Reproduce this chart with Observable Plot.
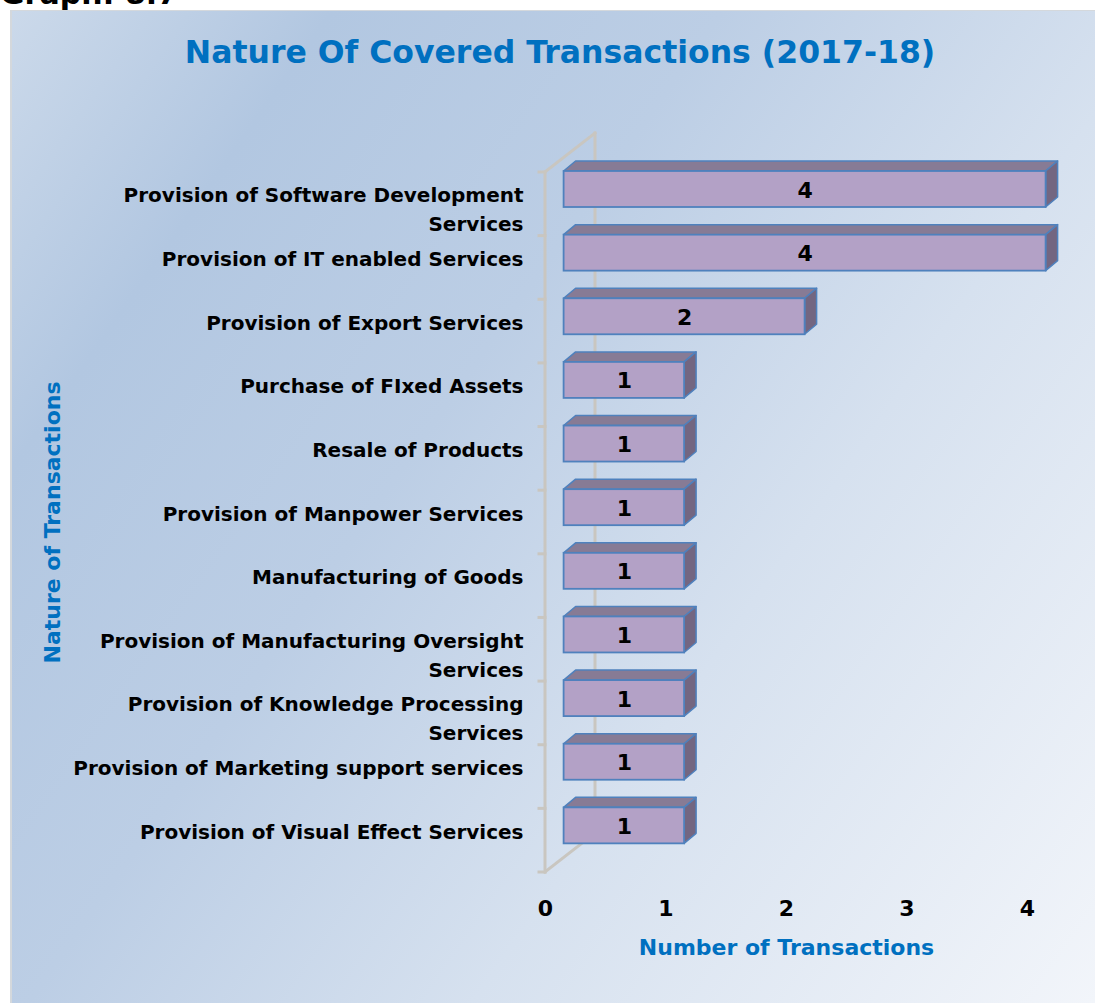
<!DOCTYPE html>
<html>
<head>
<meta charset="utf-8">
<script src="https://cdn.jsdelivr.net/npm/d3@7"></script>
<script src="https://cdn.jsdelivr.net/npm/@observablehq/plot@0.6"></script>
<style>
  html, body { margin: 0; padding: 0; background: #ffffff; width: 1095px; height: 1003px; overflow: hidden; }
  #graphno { position: absolute; left: 0; top: -24px; font: bold 30px "DejaVu Sans", sans-serif; color: #000; }
  #panel { position: absolute; left: 10px; top: 10px; width: 1085px; height: 993px;
    border-left: 2px solid #d4d8dc; border-top: 1px solid #d4d8dc; box-sizing: border-box;
    background: linear-gradient(125deg, #cbd9ea 0%, #b2c7e1 18%, #bccee5 40%, #d6e1ef 65%, #f2f5fa 100%); }
  #title { position: absolute; left: 0; width: 1120px; top: 34px; text-align: center;
    font: bold 31.5px "DejaVu Sans", sans-serif; color: #0070c0; }
  #chart { position: absolute; left: 0; top: 100px; }
</style>
</head>
<body>
<div id="graphno">Graph: 8.7</div>
<div id="panel"></div>
<div id="title">Nature Of Covered Transactions (2017-18)</div>
<div id="chart"></div>
<script>
// ---- data ----
const categories = [
  "Provision of Software Development\nServices",
  "Provision of IT enabled Services",
  "Provision of Export Services",
  "Purchase of FIxed Assets",
  "Resale of Products",
  "Provision of Manpower Services",
  "Manufacturing of Goods",
  "Provision of Manufacturing Oversight\nServices",
  "Provision of Knowledge Processing\nServices",
  "Provision of Marketing support services",
  "Provision of Visual Effect Services"
];
const counts = [4, 4, 2, 1, 1, 1, 1, 1, 1, 1, 1];
const xTicks = [0, 1, 2, 3, 4];
const xTitle = "Number of Transactions";
const yTitle = "Nature of Transactions";

const data = categories.map((c, i) => ({cat: c, value: counts[i]}));

// ---- styling ----
const FONT = "DejaVu Sans";
const BLUE = "#0070c0";
const FRONT = "#b3a1c6", TOP = "#877b95", SIDE = "#736681", EDGE = "#4f81bd";
const WALL = "#c9c6c0";
const STEP = 700 / 11;
const BAR_DX = 18.6, BAR_DY = -1, BAR_H = 36;   // front face placement within band
const DEPTH_X = 12, DEPTH_Y = -10;              // bar depth projection
const WALL_X = 50, WALL_Y = -39;                // back wall projection

// 3D top & side faces, drawn with Plot's scales
function barFaces(index, scales) {
  const g = d3.create("svg:g");
  for (const d of data) {
    const x0 = scales.x(0) + BAR_DX, x1 = scales.x(d.value) + BAR_DX;
    const y0 = scales.y(d.cat) + BAR_DY, y1 = y0 + BAR_H;
    g.append("polygon")
      .attr("points", [[x0, y0], [x1, y0], [x1 + DEPTH_X, y0 + DEPTH_Y], [x0 + DEPTH_X, y0 + DEPTH_Y]].join(" "))
      .attr("fill", TOP).attr("stroke", EDGE).attr("stroke-width", 1.5).attr("stroke-linejoin", "round");
    g.append("polygon")
      .attr("points", [[x1, y0], [x1 + DEPTH_X, y0 + DEPTH_Y], [x1 + DEPTH_X, y1 + DEPTH_Y], [x1, y1]].join(" "))
      .attr("fill", SIDE).attr("stroke", EDGE).attr("stroke-width", 1.5).attr("stroke-linejoin", "round");
  }
  return g.node();
}

// back wall / floor lines of the 3D frame
function wall(index, scales) {
  const g = d3.create("svg:g").attr("stroke", WALL).attr("stroke-width", 3).attr("fill", "none")
    .attr("stroke-linecap", "square");
  const x0 = scales.x(0);
  const yTop = scales.y(categories[0]);
  const yBot = scales.y(categories[categories.length - 1]) + scales.y.bandwidth();
  g.append("line").attr("x1", x0 + WALL_X).attr("x2", x0 + WALL_X).attr("y1", yTop + WALL_Y).attr("y2", yBot + WALL_Y);
  g.append("line").attr("x1", x0).attr("x2", x0 + WALL_X).attr("y1", yTop).attr("y2", yTop + WALL_Y);
  g.append("line").attr("x1", x0).attr("x2", x0 + WALL_X).attr("y1", yBot).attr("y2", yBot + WALL_Y);
  g.append("line").attr("x1", x0).attr("x2", x0).attr("y1", yTop).attr("y2", yBot);
  const bounds = categories.map(c => scales.y(c)).concat([yBot]);
  for (const y of bounds) g.append("line").attr("x1", x0 - 6).attr("x2", x0).attr("y1", y).attr("y2", y);
  return g.node();
}

const chart = Plot.plot({
  width: 1095,
  height: 903,
  marginLeft: 545,
  marginRight: 68,
  marginTop: 72,
  marginBottom: 131,
  style: {background: "transparent", fontFamily: FONT, overflow: "visible"},
  x: {domain: [0, 4], axis: null},
  y: {domain: categories, padding: 0, round: false, axis: null},
  marks: [
    wall,
    barFaces,
    Plot.barX(data, {
      x1: 0, x2: "value", y: "cat",
      dx: BAR_DX, dy: BAR_DY, insetTop: 0, insetBottom: STEP - BAR_H,
      fill: FRONT, stroke: EDGE, strokeWidth: 1.8
    }),
    Plot.text(data, {
      x: d => d.value / 2, y: "cat", text: d => String(d.value),
      dx: BAR_DX, dy: BAR_DY + BAR_H / 2 - STEP / 2 + 1,
      fontSize: 22, fontWeight: "bold", fill: "#000"
    }),
    Plot.text(data, {
      x: 0, y: "cat", text: "cat",
      dx: -22, dy: -22.5, textAnchor: "end", lineAnchor: "top", lineHeight: 1.45,
      fontSize: 20, fontWeight: "bold", fill: "#000"
    }),
    Plot.text(xTicks, {
      x: d => d, frameAnchor: "bottom", text: d => String(d), dy: 36,
      fontSize: 22, fontWeight: "bold", fill: "#000", lineAnchor: "middle"
    }),
    Plot.text([xTitle], {
      frameAnchor: "bottom", text: d => d, dy: 75,
      fontSize: 22, fontWeight: "bold", fill: BLUE, lineAnchor: "middle"
    }),
    Plot.text([yTitle], {
      frameAnchor: "left", text: d => d, dx: -493, rotate: -90, textAnchor: "middle",
      fontSize: 22, fontWeight: "bold", fill: BLUE, lineAnchor: "middle"
    })
  ]
});
document.getElementById("chart").appendChild(chart);
</script>
</body>
</html>
